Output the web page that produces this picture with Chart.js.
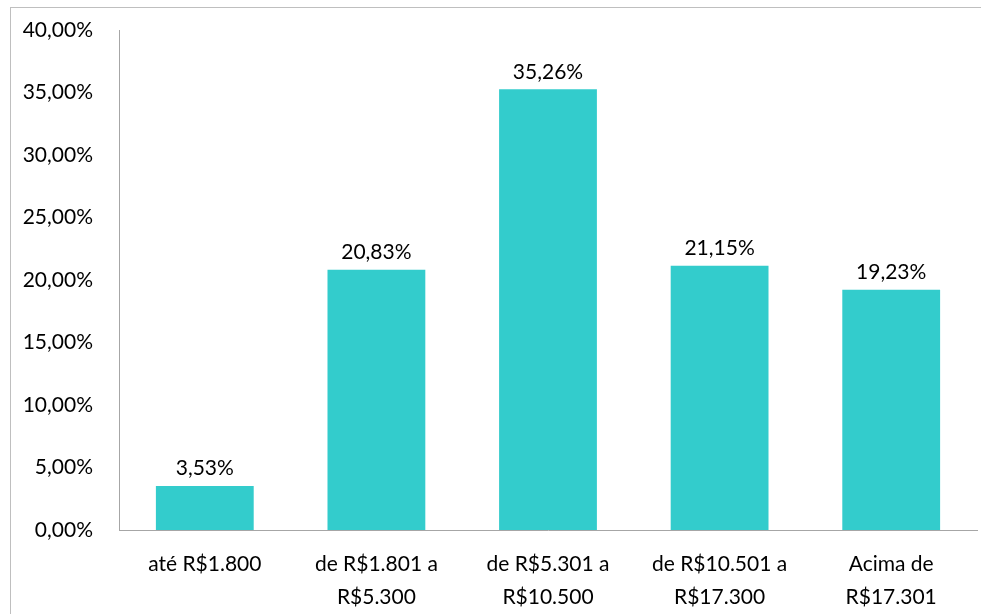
<!DOCTYPE html>
<html>
<head>
<meta charset="utf-8">
<script src="https://cdn.jsdelivr.net/npm/chart.js@4.4.1/dist/chart.umd.min.js"></script>
<style>
  html, body { margin: 0; padding: 0; background: #fff; }
  #wrap { width: 981px; height: 614px; position: relative; }
</style>
</head>
<body>
<div id="wrap"><canvas id="renda"></canvas></div>
<script>
// faixas de renda e participação (%)
const faixas = [
  ["até R$1.800"],
  ["de R$1.801 a", "R$5.300"],
  ["de R$5.301 a", "R$10.500"],
  ["de R$10.501 a", "R$17.300"],
  ["Acima de", "R$17.301"]
];
const percentuais = [3.53, 20.83, 35.26, 21.15, 19.23];
const yMax = 40;
const yStep = 5;

const fonte = "Lato, 'Open Sans', sans-serif";
const tamanho = 21;
const fmt = v => v.toFixed(2).replace(".", ",") + "%";

// moldura cinza em volta do gráfico
const moldura = {
  id: "moldura",
  beforeDraw(chart) {
    const c = chart.ctx;
    c.save();
    c.strokeStyle = "#bfbfbf";
    c.lineWidth = 1;
    c.strokeRect(10.5, 7.5, chart.width + 20, chart.height + 20);
    c.restore();
  }
};

// rótulos de valor acima das barras
const rotulos = {
  id: "rotulos",
  afterDatasetsDraw(chart) {
    const c = chart.ctx;
    const meta = chart.getDatasetMeta(0);
    c.save();
    c.font = tamanho + "px " + fonte;
    c.fillStyle = "#000";
    c.textAlign = "center";
    c.textBaseline = "bottom";
    meta.data.forEach((bar, i) => {
      c.fillText(fmt(percentuais[i]), bar.x, bar.y - 7);
    });
    c.restore();
  }
};

new Chart(document.getElementById("renda"), {
  type: "bar",
  data: {
    labels: faixas,
    datasets: [{
      data: percentuais,
      backgroundColor: "#33cccc",
      categoryPercentage: 0.57,
      barPercentage: 1
    }]
  },
  options: {
    responsive: true,
    maintainAspectRatio: false,
    animation: false,
    layout: { padding: { top: 30, right: 4, left: 0, bottom: 0 } },
    plugins: { legend: { display: false }, tooltip: { enabled: false } },
    scales: {
      x: {
        grid: { display: false },
        border: { display: true, color: "#a6a6a6", width: 1 },
        ticks: {
          color: "#000",
          font: { family: fonte, size: tamanho, lineHeight: 1.6 },
          padding: 9,
          maxRotation: 0,
          autoSkip: false
        },
        afterFit(scale) {
          scale.height = 84;
          scale.paddingLeft = 0;
          scale.paddingRight = 0;
        }
      },
      y: {
        min: 0,
        max: yMax,
        grid: { display: false, drawTicks: false },
        border: { display: true, color: "#a6a6a6", width: 1 },
        ticks: {
          stepSize: yStep,
          color: "#000",
          font: { family: fonte, size: tamanho },
          padding: 26,
          callback: v => fmt(v)
        },
        afterFit(scale) {
          scale.width = 119;
          scale.paddingTop = 0;
          scale.paddingBottom = 0;
        }
      }
    }
  },
  plugins: [moldura, rotulos]
});
</script>
</body>
</html>
